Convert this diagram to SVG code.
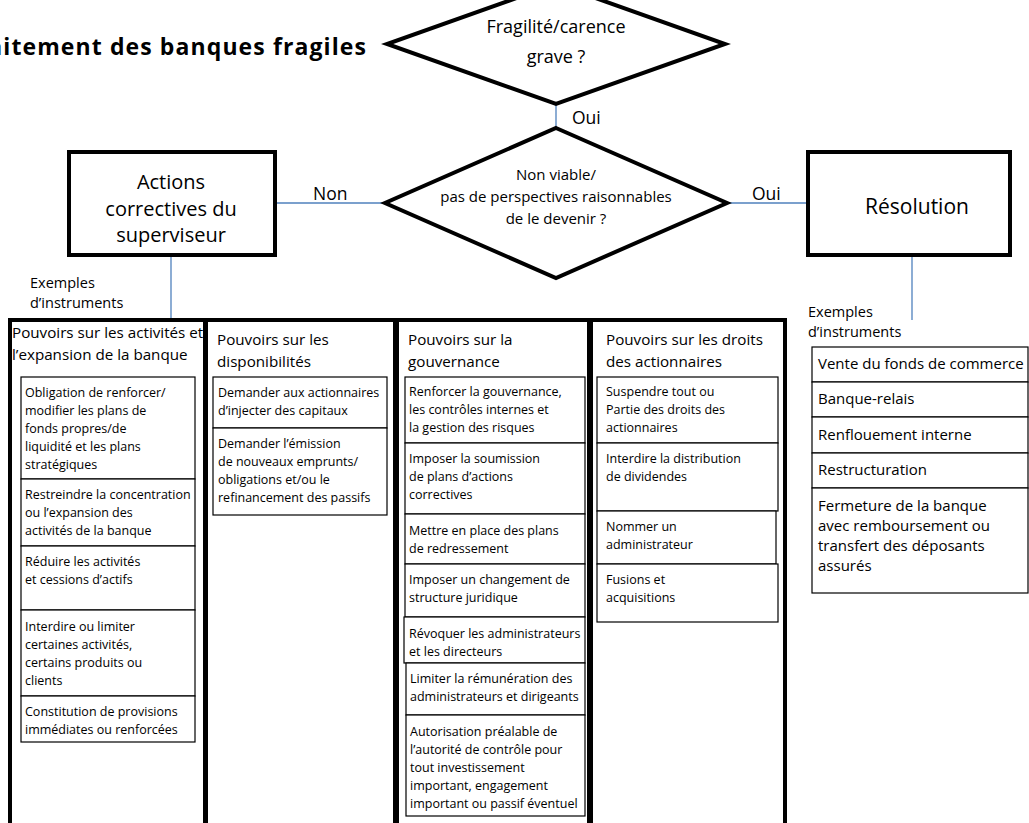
<svg xmlns="http://www.w3.org/2000/svg" width="1029" height="823" viewBox="0 0 1029 823">
<style>
text{font-family:"Open Sans","Noto Sans","Liberation Sans",sans-serif;fill:#000}
.thick{fill:#fff;stroke:#000;stroke-width:4}
.col{fill:#fff;stroke:#000;stroke-width:4}
.box{fill:#fff;stroke:#000;stroke-width:1.2}
.conn{stroke:#4F81BD;stroke-width:1.3;fill:none}
.t{font-size:12.5px}
.h{font-size:15.2px}
.r{font-size:15px}
.lab{font-size:17.5px}
.ex{font-size:14.5px}
</style>
<rect width="1029" height="823" fill="#fff"/>
<text x="367" y="55" text-anchor="end" font-weight="bold" font-size="23" letter-spacing="1.1">Traitement des banques fragiles</text>

<g id="connectors">
<line class="conn" x1="556" y1="104" x2="556" y2="128"/>
<line class="conn" x1="275" y1="203" x2="385" y2="203"/>
<line class="conn" x1="727" y1="203" x2="807" y2="203"/>
<line class="conn" x1="171" y1="255" x2="171" y2="320"/>
<line class="conn" x1="912" y1="255" x2="912" y2="320"/>
<text class="lab" x="572" y="124">Oui</text>
<text class="lab" x="313" y="200">Non</text>
<text class="lab" x="752" y="200">Oui</text>
<text class="ex" x="30" y="288">Exemples</text>
<text class="ex" x="30" y="308">d’instruments</text>
<text class="ex" x="808" y="317">Exemples</text>
<text class="ex" x="808" y="337">d’instruments</text>
</g>

<g id="q1">
<polygon class="thick" points="556,-16 725,44 556,104 387,44"/>
<text x="556" y="33" text-anchor="middle" font-size="18">Fragilité/carence</text>
<text x="556" y="63" text-anchor="middle" font-size="18">grave ?</text>
</g>

<g id="q2">
<polygon class="thick" points="556,128 727,203 556,278 385,203"/>
<text x="556" y="180" text-anchor="middle" font-size="15">Non viable/</text>
<text x="556" y="202" text-anchor="middle" font-size="15">pas de perspectives raisonnables</text>
<text x="556" y="224" text-anchor="middle" font-size="15">de le devenir ?</text>
</g>

<g id="actions">
<rect class="thick" x="69" y="152" width="206" height="103"/>
<text x="171" y="189" text-anchor="middle" font-size="20">Actions</text>
<text x="171" y="216" text-anchor="middle" font-size="20">correctives du</text>
<text x="171" y="242" text-anchor="middle" font-size="20">superviseur</text>
</g>

<g id="resolution">
<rect class="thick" x="808" y="152" width="202" height="103"/>
<text x="917" y="214" text-anchor="middle" font-size="21">Résolution</text>
</g>

<g id="col1">
<rect class="col" x="10" y="320" width="195" height="530"/>
<text class="h" x="12" y="338">Pouvoirs sur les activités et</text>
<text class="h" x="12" y="360">l’expansion de la banque</text>
<rect class="box" x="21" y="377" width="174" height="102"/>
<text class="t" x="25" y="397">Obligation de renforcer/</text>
<text class="t" x="25" y="415">modifier les plans de</text>
<text class="t" x="25" y="433">fonds propres/de</text>
<text class="t" x="25" y="451">liquidité et les plans</text>
<text class="t" x="25" y="469">stratégiques</text>
<rect class="box" x="21" y="479" width="174" height="67"/>
<text class="t" x="25" y="499">Restreindre la concentration</text>
<text class="t" x="25" y="517">ou l’expansion des</text>
<text class="t" x="25" y="535">activités de la banque</text>
<rect class="box" x="21" y="546" width="174" height="64"/>
<text class="t" x="25" y="566">Réduire les activités</text>
<text class="t" x="25" y="584">et cessions d’actifs</text>
<rect class="box" x="21" y="610" width="174" height="86"/>
<text class="t" x="25" y="631">Interdire ou limiter</text>
<text class="t" x="25" y="649">certaines activités,</text>
<text class="t" x="25" y="667">certains produits ou</text>
<text class="t" x="25" y="685">clients</text>
<rect class="box" x="21" y="696" width="174" height="46"/>
<text class="t" x="25" y="716">Constitution de provisions</text>
<text class="t" x="25" y="734">immédiates ou renforcées</text>
</g>

<g id="col2">
<rect class="col" x="206" y="320" width="189" height="530"/>
<text class="h" x="217" y="345">Pouvoirs sur les</text>
<text class="h" x="217" y="367">disponibilités</text>
<rect class="box" x="213" y="377" width="174" height="51"/>
<text class="t" x="218" y="397">Demander aux actionnaires</text>
<text class="t" x="218" y="415">d’injecter des capitaux</text>
<rect class="box" x="213" y="428" width="174" height="87"/>
<text class="t" x="218" y="448">Demander l’émission</text>
<text class="t" x="218" y="466">de nouveaux emprunts/</text>
<text class="t" x="218" y="484">obligations et/ou le</text>
<text class="t" x="218" y="502">refinancement des passifs</text>
</g>

<g id="col3">
<rect class="col" x="397" y="320" width="192" height="530"/>
<text class="h" x="408" y="345">Pouvoirs sur la</text>
<text class="h" x="408" y="367">gouvernance</text>
<rect class="box" x="405" y="377" width="180" height="66"/>
<text class="t" x="409" y="396">Renforcer la gouvernance,</text>
<text class="t" x="409" y="414">les contrôles internes et</text>
<text class="t" x="409" y="432">la gestion des risques</text>
<rect class="box" x="405" y="443" width="180" height="71"/>
<text class="t" x="409" y="463">Imposer la soumission</text>
<text class="t" x="409" y="481">de plans d’actions</text>
<text class="t" x="409" y="499">correctives</text>
<rect class="box" x="405" y="514" width="180" height="50"/>
<text class="t" x="409" y="535">Mettre en place des plans</text>
<text class="t" x="409" y="553">de redressement</text>
<rect class="box" x="405" y="564" width="180" height="53"/>
<text class="t" x="409" y="584">Imposer un changement de</text>
<text class="t" x="409" y="602">structure juridique</text>
<rect class="box" x="404" y="617" width="181" height="46"/>
<text class="t" x="409" y="638">Révoquer les administrateurs</text>
<text class="t" x="409" y="656">et les directeurs</text>
<rect class="box" x="406" y="663" width="179" height="52"/>
<text class="t" x="410" y="683">Limiter la rémunération des</text>
<text class="t" x="410" y="701">administrateurs et dirigeants</text>
<rect class="box" x="406" y="715" width="179" height="101"/>
<text class="t" x="410" y="736">Autorisation préalable de</text>
<text class="t" x="410" y="754">l’autorité de contrôle pour</text>
<text class="t" x="410" y="772">tout investissement</text>
<text class="t" x="410" y="790">important, engagement</text>
<text class="t" x="410" y="808">important ou passif éventuel</text>
</g>

<g id="col4">
<rect class="col" x="591" y="320" width="194" height="530"/>
<text class="h" x="606" y="345">Pouvoirs sur les droits</text>
<text class="h" x="606" y="367">des actionnaires</text>
<rect class="box" x="597" y="377" width="181" height="66"/>
<text class="t" x="606" y="396">Suspendre tout ou</text>
<text class="t" x="606" y="414">Partie des droits des</text>
<text class="t" x="606" y="432">actionnaires</text>
<rect class="box" x="597" y="443" width="181" height="68"/>
<text class="t" x="606" y="463">Interdire la distribution</text>
<text class="t" x="606" y="481">de dividendes</text>
<rect class="box" x="597" y="511" width="179" height="53"/>
<text class="t" x="606" y="531">Nommer un</text>
<text class="t" x="606" y="549">administrateur</text>
<rect class="box" x="597" y="564" width="181" height="58"/>
<text class="t" x="606" y="584">Fusions et</text>
<text class="t" x="606" y="602">acquisitions</text>
</g>

<g id="instruments">
<rect class="box" x="812" y="347" width="216" height="35"/>
<text class="r" x="818" y="369">Vente du fonds de commerce</text>
<rect class="box" x="812" y="382" width="216" height="35"/>
<text class="r" x="818" y="404">Banque-relais</text>
<rect class="box" x="812" y="417" width="216" height="36"/>
<text class="r" x="818" y="440">Renflouement interne</text>
<rect class="box" x="812" y="453" width="216" height="35"/>
<text class="r" x="818" y="475">Restructuration</text>
<rect class="box" x="812" y="488" width="216" height="105"/>
<text class="r" x="818" y="511">Fermeture de la banque</text>
<text class="r" x="818" y="531">avec remboursement ou</text>
<text class="r" x="818" y="551">transfert des déposants</text>
<text class="r" x="818" y="571">assurés</text>
</g>
</svg>
